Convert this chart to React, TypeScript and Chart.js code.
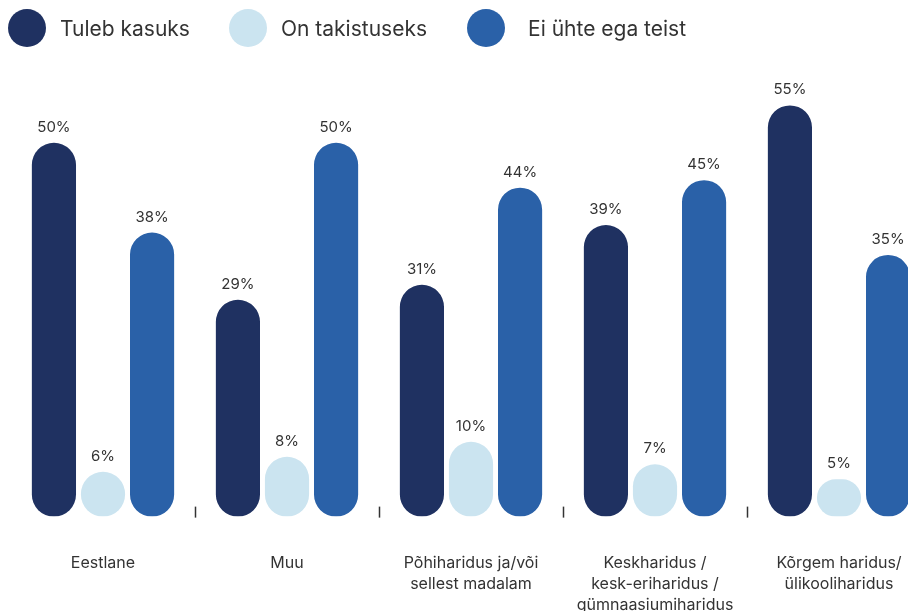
import React, { useEffect, useRef } from "react";
import { Chart, registerables } from "chart.js";

Chart.register(...registerables);

const categories: string[][] = [
  ["Eestlane"],
  ["Muu"],
  ["Põhiharidus ja/või", "sellest madalam"],
  ["Keskharidus /", "kesk-eriharidus /", "gümnaasiumiharidus"],
  ["Kõrgem haridus/", "ülikooliharidus"],
];
const seriesNames = ["Tuleb kasuks", "On takistuseks", "Ei ühte ega teist"];
const tulebKasuks = [50, 29, 31, 39, 55];
const onTakistuseks = [6, 8, 10, 7, 5];
const eiUhteEgaTeist = [38, 50, 44, 45, 35];
const seriesColors = ["#1f3161", "#cbe4f0", "#2a61a8"];

const FONT = "Inter, 'Open Sans', sans-serif";
const TEXT = "#333333";

const valueLabels = {
  id: "valueLabels",
  afterDatasetsDraw(chart: any) {
    const ctx = chart.ctx;
    ctx.save();
    ctx.font = `15px ${FONT}`;
    ctx.fillStyle = TEXT;
    ctx.textAlign = "center";
    ctx.textBaseline = "middle";
    chart.data.datasets.forEach((ds: any, i: number) => {
      chart.getDatasetMeta(i).data.forEach((bar: any, j: number) => {
        ctx.fillText(ds.data[j] + "%", bar.x, bar.y - 15.5);
      });
    });
    ctx.restore();
  },
};

const separators = {
  id: "separators",
  afterDraw(chart: any) {
    const ctx = chart.ctx;
    const xs = chart.scales.x;
    const base = chart.scales.y.getPixelForValue(0);
    ctx.save();
    ctx.strokeStyle = TEXT;
    ctx.lineWidth = 1.5;
    for (let i = 0; i < categories.length - 1; i++) {
      const px = Math.round((xs.getPixelForValue(i) + xs.getPixelForValue(i + 1)) / 2) + 0.5;
      ctx.beginPath();
      ctx.moveTo(px, base - 10);
      ctx.lineTo(px, base + 1);
      ctx.stroke();
    }
    ctx.restore();
  },
};

const legendTextGap = [14, 14, 23];
const legendItemGap = [39, 40, 0];

export default function App() {
  const ref = useRef<HTMLCanvasElement | null>(null);

  useEffect(() => {
    if (!ref.current) return;
    const chart = new Chart(ref.current, {
      type: "bar",
      data: {
        labels: categories,
        datasets: [tulebKasuks, onTakistuseks, eiUhteEgaTeist].map((d, i) => ({
          label: seriesNames[i],
          data: d,
          backgroundColor: seriesColors[i],
          borderRadius: 100,
          borderSkipped: false,
          categoryPercentage: 0.8,
          barPercentage: 0.9,
        })),
      },
      options: {
        responsive: false,
        animation: false,
        layout: { padding: { left: 11, right: 9, top: 68, bottom: 5.5 } },
        plugins: { legend: { display: false }, tooltip: { enabled: false } },
        scales: {
          x: {
            grid: { display: false, drawTicks: false },
            border: { display: false },
            ticks: {
              padding: 36,
              color: TEXT,
              font: { family: FONT, size: 16, lineHeight: 1.31 },
              maxRotation: 0,
              autoSkip: false,
            },
          },
          y: { display: false, min: 0, max: 60 },
        },
      },
      plugins: [valueLabels, separators],
    });
    return () => chart.destroy();
  }, []);

  return (
    <div
      style={{
        position: "fixed",
        left: 0,
        top: 0,
        width: 908,
        height: 611,
        overflow: "hidden",
        background: "#fff",
      }}
    >
      <canvas
        ref={ref}
        width={940}
        height={657}
        style={{ position: "absolute", left: 0, top: 0, width: 940, height: 657 }}
      />
      <div
        style={{
          position: "absolute",
          left: 8,
          top: 9,
          display: "flex",
          alignItems: "center",
          fontFamily: FONT,
          fontSize: 21,
          color: TEXT,
        }}
      >
        {seriesNames.map((n, i) => (
          <div key={n} style={{ display: "flex", alignItems: "center", marginRight: legendItemGap[i] }}>
            <span
              style={{
                display: "inline-block",
                width: 38,
                height: 38,
                borderRadius: 19,
                background: seriesColors[i],
                marginRight: legendTextGap[i],
              }}
            />
            <span style={{ whiteSpace: "nowrap" }}>{n}</span>
          </div>
        ))}
      </div>
    </div>
  );
}
